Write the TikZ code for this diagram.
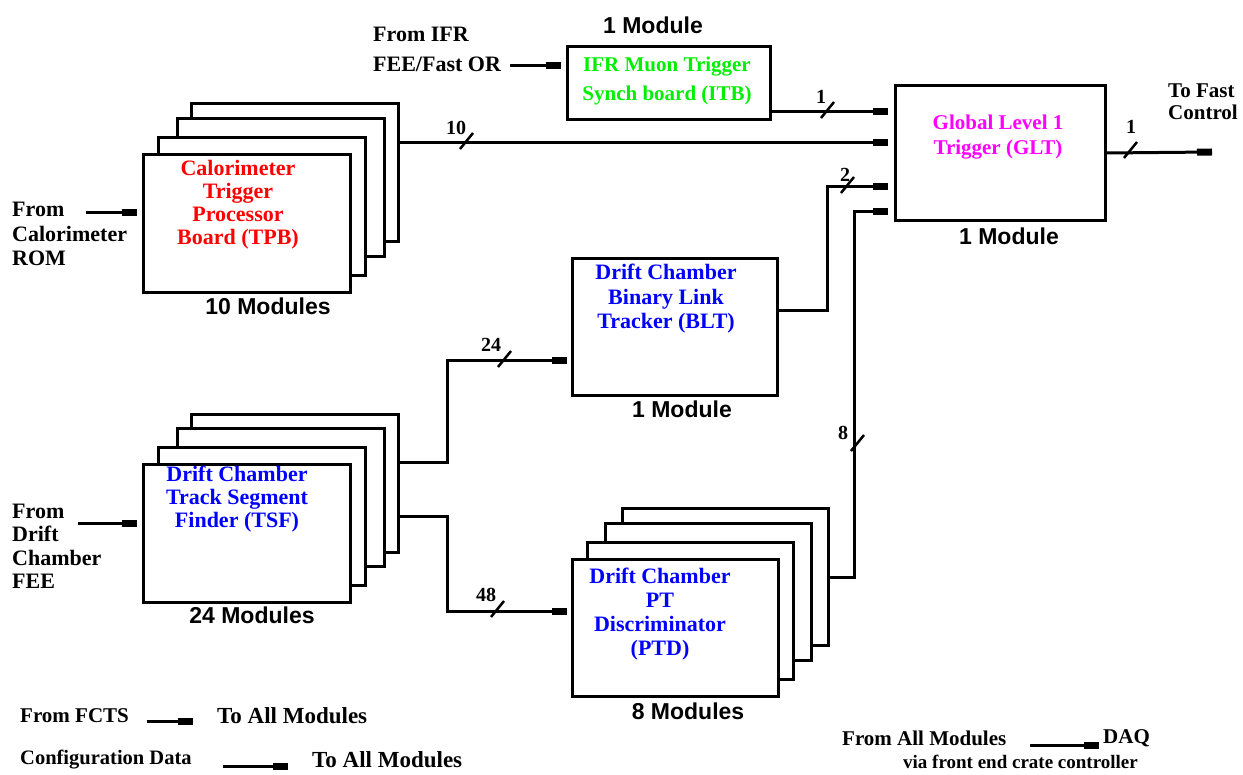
\documentclass[tikz,border=0pt]{standalone}
\usepackage{fontspec}
\setmainfont{Liberation Serif}
\newfontfamily\modfont{Liberation Sans}
\usetikzlibrary{arrows.meta}
\definecolor{tred}{RGB}{255,0,0}
\definecolor{tgreen}{RGB}{0,240,0}
\definecolor{tblue}{RGB}{0,0,255}
\definecolor{tmag}{RGB}{255,0,255}
\begin{document}
\begin{tikzpicture}[x=1pt,y=-1pt,
  box/.style={draw,line width=3pt,fill=white,inner sep=0pt,anchor=north west},
  stk/.style={box,minimum width=207pt,minimum height=138pt},
  stkp/.style={box,minimum width=206pt,minimum height=137pt},
  txt/.style={font=\bfseries\fontsize{22}{23}\selectfont,align=center,inner sep=0pt,anchor=north},
  lab/.style={font=\bfseries\fontsize{22}{24}\selectfont,align=left,inner sep=0pt,anchor=north west},
  leg/.style={font=\bfseries\fontsize{21}{22}\selectfont,inner sep=0pt,anchor=west},
  modl/.style={font=\modfont\bfseries\fontsize{23}{23}\selectfont,inner sep=0pt},
  cnt/.style={font=\bfseries\fontsize{20}{20}\selectfont,inner sep=0pt},
  conn/.style={line width=3pt,-{Rectangle[length=15pt,width=7pt]},shorten >=5pt},
  slash/.style={line width=2.5pt}]
\fill[white] (0,0) rectangle (1243,775);
\useasboundingbox (0,0) rectangle (1243,775);

% ---- single boxes
\node[box,minimum width=203pt,minimum height=73pt] (IFR) at (566,45) {};
\node[box,minimum width=210pt,minimum height=135pt] (GLT) at (894,84) {};
\node[box,minimum width=205pt,minimum height=137pt] (BLT) at (571,257) {};

% ---- TPB stack
\node[stk] (TPB3) at (190,102) {};
\node[stk] (TPB2) at (176,117) {};
\node[stk] (TPB1) at (157,136) {};
\node[stk] (TPB)  at (142,153) {};
% ---- TSF stack
\node[stk] (TSF3) at (190,413) {};
\node[stk] (TSF2) at (176,427) {};
\node[stk] (TSF1) at (157,446) {};
\node[stk] (TSF)  at (142,463) {};
% ---- PTD stack
\node[stkp] (PTD3) at (621,507) {};
\node[stkp] (PTD2) at (604,522) {};
\node[stkp] (PTD1) at (586,541) {};
\node[stkp] (PTD)  at (571,558) {};

% ---- box texts
\node[txt,text=tgreen,font=\bfseries\fontsize{21}{29}\selectfont] (IFRt) at (667,57) {IFR Muon Trigger\\Synch board (ITB)};
\node[txt,text=tmag,font=\bfseries\fontsize{21}{25}\selectfont] (GLTt) at (998,115) {Global Level 1\\Trigger (GLT)};
\node[txt,text=tred] (TPBt) at (238,160) {Calorimeter\\Trigger\\Processor\\Board (TPB)};
\node[txt,text=tblue] (TSFt) at (237,466) {Drift Chamber\\Track Segment\\Finder (TSF)};
\node[txt,text=tblue,font=\bfseries\fontsize{22}{24.5}\selectfont] (BLTt) at (666,264) {Drift Chamber\\Binary Link\\Tracker (BLT)};
\node[txt,text=tblue,font=\bfseries\fontsize{22}{24}\selectfont] (PTDt) at (660,568) {Drift Chamber\\PT\\Discriminator\\(PTD)};

% ---- module counts
\node[modl] (mIFR) at (653,25) {1 Module};
\node[modl] (mTPB) at (268,306) {10 Modules};
\node[modl] (mTSF) at (252,615) {24 Modules};
\node[modl] (mBLT) at (682,409) {1 Module};
\node[modl] (mPTD) at (688,711) {8 Modules};
\node[modl] (mGLT) at (1009,236) {1 Module};

% ---- input labels
\node[lab,font=\bfseries\fontsize{22}{30}\selectfont] (ifrin) at (373,27) {From IFR\\FEE/Fast OR};
\node[lab,font=\bfseries\fontsize{22}{24.5}\selectfont] (calin) at (12,202) {From\\Calorimeter\\ROM};
\node[lab,font=\bfseries\fontsize{22}{23.3}\selectfont] (dcin) at (12,504) {From\\Drift\\Chamber\\FEE};
\node[lab,font=\bfseries\fontsize{21}{22}\selectfont] (fcout) at (1168,84) {To Fast\\Control};

% ---- coordinates
\coordinate (ifrA) at (510,66);
\coordinate (calA) at (86,213);
\coordinate (dcA) at (78,523);
\coordinate (g1) at (GLT.west |- 0,112);
\coordinate (g2) at (GLT.west |- 0,143);
\coordinate (g3) at (GLT.west |- 0,187);
\coordinate (g4) at (GLT.west |- 0,212);
\coordinate (j3) at (827,187);
\coordinate (j4) at (854,212);
\coordinate (fcA) at (1212,152);
\coordinate (j5) at (447,361);
\coordinate (j5b) at (447,463);
\coordinate (j6) at (447,611);
\coordinate (j6b) at (447,516);

% ---- connectors
\draw[conn] (ifrA) -- (ifrA -| IFR.west);
\draw[conn] (calA) -- (calA -| TPB.west);
\draw[conn] (dcA) -- (dcA -| TSF.west);
\draw[conn,shorten >=6pt] (IFR.east |- g1) -- (g1);
\draw[conn,shorten >=6pt] (TPB3.east |- g2) -- (g2);
\draw[conn,shorten >=6pt] ([yshift=16.5pt]BLT.east) -| (j3) -- (g3);
\draw[conn,shorten >=6pt] (PTD3.east) -| (j4) -- (g4);
\draw[conn,shorten >=0pt] (GLT.east) -- (fcA);
\draw[conn,shorten >=4pt] (TSF3.east |- j5b) -- (j5b) -- (j5) -- (j5 -| BLT.west);
\draw[conn,shorten >=4pt] (TSF3.east |- j6b) -- (j6b) -- (j6) -- (j6 -| PTD.west);

% ---- bus slashes and counts
\coordinate (s1) at (825,112);
\coordinate (s2) at (464,143);
\coordinate (s3) at (845,187);
\coordinate (s4) at (855,445);
\coordinate (s5) at (1128,152);
\coordinate (s6) at (502,361);
\coordinate (s7) at (495,611);
\foreach \s in {s1,s2,s3,s4,s5,s6,s7}
  \draw[slash] ([shift={(-4,6)}]\s) -- ([shift={(9,-10)}]\s);
\node[cnt] (c1) at (821,97) {1};
\node[cnt] (c2) at (456,128) {10};
\node[cnt] (c3) at (845,175) {2};
\node[cnt] (c4) at (843,433) {8};
\node[cnt] (c5) at (1131,127) {1};
\node[cnt] (c6) at (491,345) {24};
\node[cnt] (c7) at (486,595) {48};

% ---- legend
\node[leg] (fcts) at (20,716) {From FCTS};
\node[leg,font=\bfseries\fontsize{23}{23}\selectfont] (toall1) at (217,716) {To All Modules};
\coordinate (l1) at (147,721);
\draw[conn,shorten >=24pt] (l1) -- (l1 -| toall1.west);
\node[leg,font=\bfseries\fontsize{20.5}{22}\selectfont] (cfg) at (20,760) {Configuration Data};
\node[leg,font=\bfseries\fontsize{23}{23}\selectfont] (toall2) at (312,760) {To All Modules};
\coordinate (l2) at (223,766);
\draw[conn,shorten >=24pt] (l2) -- (l2 -| toall2.west);
\node[leg] (fam) at (842,738) {From All Modules};
\node[leg] (daq) at (1103,738) {DAQ};
\coordinate (l3) at (1030,745);
\draw[conn,shorten >=4pt] (l3) -- (l3 -| daq.west);
\node[leg,font=\bfseries\fontsize{19}{20}\selectfont,anchor=south west] (via) at (903,769) {via front end crate controller};
\end{tikzpicture}
\end{document}
